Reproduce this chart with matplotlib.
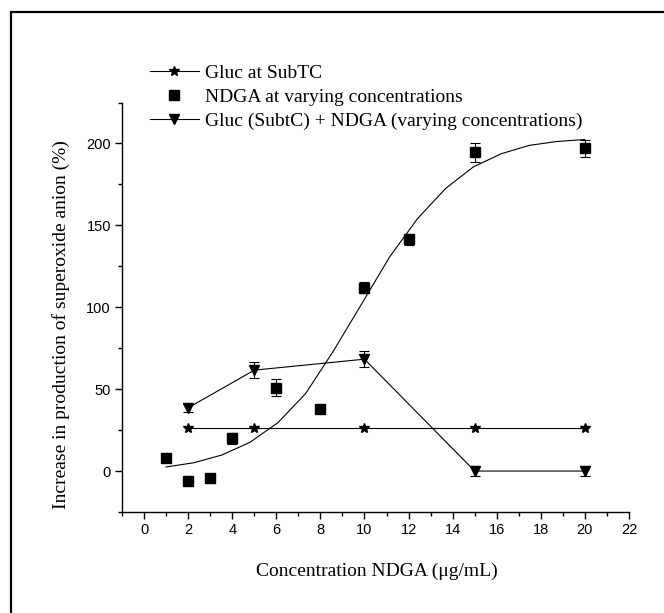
import matplotlib
matplotlib.use("Agg")
import matplotlib.pyplot as plt
from matplotlib.patches import Rectangle
from matplotlib.lines import Line2D
from matplotlib.ticker import MultipleLocator

# Data
gluc_x = [2, 5, 10, 15, 20]
gluc_y = [26, 26, 26, 26, 26]

ndga_x = [1, 2, 3, 4, 6, 8, 10, 12, 15, 20]
ndga_y = [8, -6, -4, 20, 51, 38, 112, 141.5, 194.5, 197]
ndga_err = [0, 2, 0, 3.5, 5, 0, 3.5, 3.4, 5.7, 5.2]

fit_x = [1.0, 2.27, 3.53, 4.8, 6.07, 7.33, 8.6, 9.87, 11.13, 12.4,
         13.67, 14.93, 16.2, 17.47, 18.73, 20.0]
fit_y = [2.5, 5.1, 9.8, 17.5, 29.5, 47.3, 73.5, 102, 130.5, 154,
         172.4, 185.6, 193.7, 198.8, 201.2, 202.4]

comb_x = [2, 5, 10, 15, 20]
comb_y = [38.6, 61.6, 68.3, 0, 0]
comb_err = [2.5, 5, 4.9, 3, 3]

xticks = [0, 2, 4, 6, 8, 10, 12, 14, 16, 18, 20, 22]
yticks = [0, 50, 100, 150, 200]

labels = ['Gluc at SubTC', 'NDGA at varying concentrations',
          'Gluc (SubtC) + NDGA (varying concentrations)']

W, H = 664, 613
fig = plt.figure(figsize=(W / 100, H / 100), dpi=100)
ax = fig.add_axes([122 / W, 1 - 512 / H, (629 - 122) / W, (512 - 102.5) / H])

serif = ['Liberation Serif', 'DejaVu Serif']
sans = ['Liberation Sans', 'DejaVu Sans']

lw = 0.8
ax.plot(gluc_x, gluc_y, color='black', lw=lw, marker='*', ms=7.5)
ax.errorbar(ndga_x, ndga_y, yerr=ndga_err, fmt='s', color='black', ms=6.5,
            elinewidth=lw, capsize=3.4, capthick=lw)
ax.plot(fit_x, fit_y, color='black', lw=lw)
ax.errorbar(comb_x, comb_y, yerr=comb_err, fmt='-v', color='black', ms=7.5,
            lw=lw, elinewidth=lw, capsize=3.4, capthick=lw)

ax.set_xlim(-1, 22)
ax.set_ylim(-25, 225)
ax.set_xticks(xticks)
ax.set_yticks(yticks)
ax.xaxis.set_minor_locator(MultipleLocator(1))
ax.yaxis.set_minor_locator(MultipleLocator(25))
for s in ['top', 'right']:
    ax.spines[s].set_visible(False)
for s in ['left', 'bottom']:
    ax.spines[s].set_linewidth(1.0)
ax.tick_params(which='major', direction='out', length=5, width=1.0, pad=3,
               labelsize=10.5)
ax.tick_params(which='minor', direction='out', length=3, width=1.0)
for lab in ax.get_xticklabels() + ax.get_yticklabels():
    lab.set_family(sans)

fig.text(376.5 / W, 1 - 575.7 / H, 'Concentration NDGA (\u03bcg/mL)',
         fontsize=14, family=serif, ha='center', va='baseline')
fig.text(61.5 / W, 1 - 324.5 / H,
         'Increase in production of superoxide anion (%)',
         fontsize=14, family=serif, ha='center', va='center', rotation=90)

handles = [
    Line2D([], [], color='black', lw=lw, marker='*', ms=7.5),
    Line2D([], [], color='black', lw=0, marker='s', ms=6.5),
    Line2D([], [], color='black', lw=lw, marker='v', ms=7.5),
]
fig.legend(handles, labels, loc='upper left',
           bbox_to_anchor=(150 / W, 1 - 64 / H), frameon=False,
           prop={'family': serif, 'size': 14},
           handlelength=2.5, handletextpad=0.35, labelspacing=0.33,
           borderpad=0, borderaxespad=0)

fig.patches.append(Rectangle((10.5 / W, -0.05), 1.2, 1.05 - 12 / H,
                             transform=fig.transFigure, fill=False,
                             edgecolor='black', lw=1.6))

fig.savefig('out.png', dpi=100)
